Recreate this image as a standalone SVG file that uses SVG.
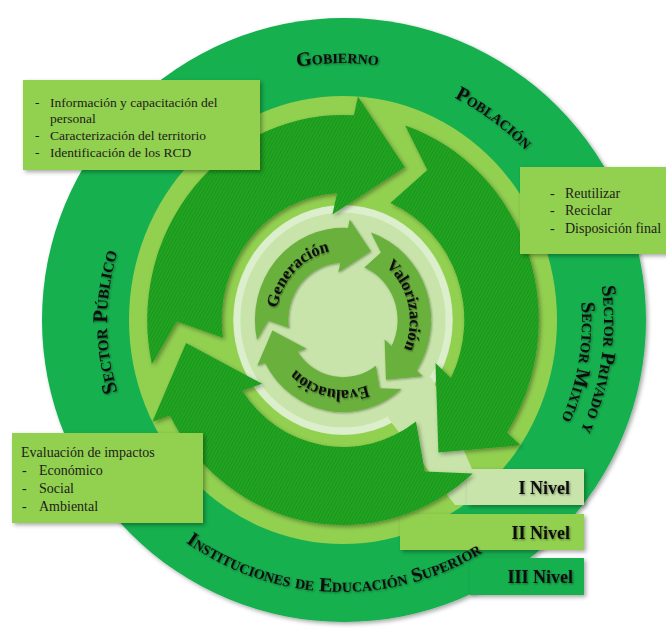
<svg xmlns="http://www.w3.org/2000/svg" width="666" height="635" viewBox="0 0 666 635">
<style>
.ring{font-family:"Liberation Serif","Times New Roman",serif;font-weight:bold;font-size:20px;font-variant:small-caps;fill:#111}
.box{font-family:"Liberation Serif","Times New Roman",serif;font-size:13.5px;fill:#1c1c1c}
.box14{font-family:"Liberation Serif","Times New Roman",serif;font-size:14px;fill:#1c1c1c}
.lvl{font-family:"Liberation Serif","Times New Roman",serif;font-weight:bold;font-size:18px;fill:#111;text-anchor:end}
.core{font-family:"Liberation Serif","Times New Roman",serif;font-weight:bold;font-size:17px;fill:#111}
</style>
<defs>
<filter id="sh" x="-10%" y="-10%" width="130%" height="130%"><feDropShadow dx="2" dy="2" stdDeviation="2" flood-color="#000" flood-opacity="0.35"/></filter>
<filter id="tsh" x="-10%" y="-10%" width="130%" height="130%"><feDropShadow dx="1" dy="1" stdDeviation="0.8" flood-color="#000" flood-opacity="0.45"/></filter>
<pattern id="tex" width="3" height="3" patternUnits="userSpaceOnUse" patternTransform="rotate(-60)"><rect width="3" height="3" fill="#22a422"/><rect width="3" height="1" fill="#168c18" opacity="0.6"/></pattern>
<path id="pA" d="M-200.14 44.37 A205 205 0 0 1 11.44 -204.68 L15.63 -223.45 L64.86 -152.8 L-11.08 -105.42 L-6.2 -126.85 A127 127 0 0 0 -125.76 17.67 L-173.99 1.52 Z"/>
<path id="pB" d="M65.05 -194.41 A205 205 0 0 1 171.54 112.25 L185.7 125.26 L99.9 132.57 L96.84 43.11 L112.96 58.04 A127 127 0 0 0 49.62 -116.9 L88.31 -149.92 Z"/>
<path id="pC" d="M135.84 153.54 A205 205 0 0 1 -181.34 95.61 L-199.59 101.69 L-164.38 23.1 L-84.66 63.79 L-105.53 70.65 A127 127 0 0 0 76.43 101.43 L85.67 151.44 Z"/>
<path id="tGen" d="M-52.83 45.92 A70 70 0 0 1 44.05 -54.4"/>
<path id="tVal" d="M-9.74 -69.32 A70 70 0 0 1 21.63 66.57"/>
<path id="tEva" d="M66.94 20.47 A70 70 0 0 1 -69.48 -8.53"/>
<path id="pGob" d="M86.19 281.48 A259 259 0 0 1 596.24 272.58"/>
<path id="pPob" d="M169.86 139.33 A251 251 0 0 1 566.24 434.78"/>
<path id="pPri" d="M424.27 73.2 A262 262 0 0 1 349.77 583.88"/>
<path id="pMix" d="M422.51 95.91 A240 240 0 0 1 343.68 561.99"/>
<path id="pPub" d="M301.19 553.43 A235 235 0 0 1 301.19 90.57"/>
<path id="pIns" d="M74.63 359.58 A270 270 0 0 0 606.1 378.14"/>
</defs>

<g id="background">
<circle cx="344" cy="320" r="302" fill="#12b04f" filter="url(#sh)"/>
<ellipse cx="343" cy="320" rx="214" ry="224" fill="#92d050"/>
</g>

<g id="level-3"><rect x="470" y="558" width="114" height="37" fill="#12b04f" filter="url(#sh)"/></g>
<g id="level-2"><rect x="400" y="514" width="184" height="36" fill="#92d050" filter="url(#sh)"/></g>

<g id="core-disc" transform="translate(343 320) scale(0.955 1)">
<circle r="115" fill="#c8e4aa"/>
<circle r="111" fill="none" stroke="#dcefcd" stroke-width="7"/>
</g>

<g id="level-1">
<polygon points="395,370 432,378 472,469 472,505 455,505 388,418" fill="#c8e4aa"/>
<rect x="467" y="469" width="117" height="36" fill="#c8e4aa" filter="url(#sh)"/>
</g>

<g id="connectors" transform="translate(343 320) scale(0.955 1)" fill="url(#tex)" filter="url(#sh)">
<use href="#pA"/>
<use href="#pB"/>
<use href="#pC"/>
</g>

<g id="cycle" transform="translate(343 320) scale(0.955 1)">
<g id="generacion"><use href="#pA" transform="scale(0.45)" fill="#6ab03e" filter="url(#sh)"/>
<text class="core" filter="url(#tsh)"><textPath href="#tGen" startOffset="50%" text-anchor="middle">Generación</textPath></text></g>
<g id="valorizacion"><use href="#pB" transform="scale(0.45)" fill="#6ab03e" filter="url(#sh)"/>
<text class="core" filter="url(#tsh)"><textPath href="#tVal" startOffset="50%" text-anchor="middle">Valorización</textPath></text></g>
<g id="evaluacion"><use href="#pC" transform="scale(0.45)" fill="#6ab03e" filter="url(#sh)"/>
<text class="core" filter="url(#tsh)"><textPath href="#tEva" startOffset="50%" text-anchor="middle">Evaluación</textPath></text></g>
</g>

<g id="box-generacion">
<rect x="23" y="80" width="237" height="90" fill="#92d050" filter="url(#sh)"/>
<text class="box" x="35" y="106.7">-</text><text class="box" x="50" y="106.7">Información y capacitación del</text>
<text class="box" x="50" y="122.5">personal</text>
<text class="box" x="35" y="140">-</text><text class="box" x="50" y="140">Caracterización del territorio</text>
<text class="box" x="35" y="157.3">-</text><text class="box" x="50" y="157.3">Identificación de los RCD</text>
</g>

<g id="box-valorizacion">
<rect x="520" y="167" width="150" height="87" fill="#92d050" filter="url(#sh)"/>
<text class="box14" x="550" y="197.7">-</text><text class="box14" x="565" y="197.7">Reutilizar</text>
<text class="box14" x="550" y="215">-</text><text class="box14" x="565" y="215">Reciclar</text>
<text class="box14" x="550" y="232.7">-</text><text class="box14" x="565" y="232.7">Disposición final</text>
</g>

<g id="box-evaluacion">
<rect x="12" y="433" width="191" height="90" fill="#92d050" filter="url(#sh)"/>
<text class="box14" x="21" y="457">Evaluación de impactos</text>
<text class="box14" x="22" y="475">-</text><text class="box14" x="39" y="475">Económico</text>
<text class="box14" x="22" y="493">-</text><text class="box14" x="39" y="493">Social</text>
<text class="box14" x="22" y="511">-</text><text class="box14" x="39" y="511">Ambiental</text>
</g>

<g id="level-labels">
<text class="lvl" x="570" y="494" filter="url(#tsh)">I Nivel</text>
<text class="lvl" x="570" y="539" filter="url(#tsh)">II Nivel</text>
<text class="lvl" x="573" y="583" filter="url(#tsh)">III Nivel</text>
</g>

<g id="ring-labels" filter="url(#tsh)">
<text class="ring" id="gobierno"><textPath href="#pGob" startOffset="50%" text-anchor="middle">Gobierno</textPath></text>
<text class="ring" id="poblacion"><textPath href="#pPob" startOffset="50%" text-anchor="middle">Población</textPath></text>
<text class="ring" id="privado"><textPath href="#pPri" startOffset="50%" text-anchor="middle">Sector Privado y</textPath></text>
<text class="ring" id="mixto"><textPath href="#pMix" startOffset="50%" text-anchor="middle">Sector Mixto</textPath></text>
<text class="ring" id="publico" style="font-size:21px"><textPath href="#pPub" startOffset="50%" text-anchor="middle">Sector Público</textPath></text>
<text class="ring" id="instituciones"><textPath href="#pIns" startOffset="50%" text-anchor="middle">Instituciones de Educación Superior</textPath></text>
</g>
</svg>
